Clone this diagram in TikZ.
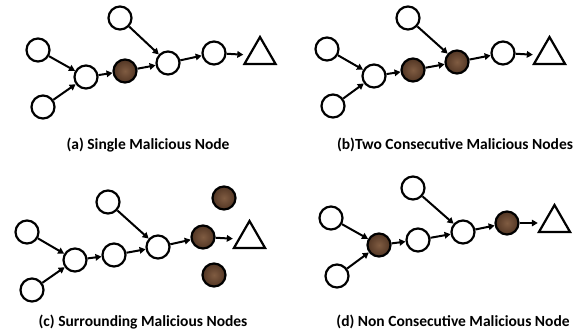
\documentclass[tikz,border=0pt]{standalone}
\usepackage{fontspec}
\setmainfont{Carlito}
\usetikzlibrary{arrows.meta,shapes.geometric}
\definecolor{brownin}{RGB}{128,92,66}
\definecolor{brownout}{RGB}{82,54,36}
\tikzset{
  nd/.style={circle,draw=black,line width=2.2bp,minimum size=23bp,inner sep=0pt,fill=white},
  mal/.style={nd,inner color=brownin,outer color=brownout},
  sink/.style={regular polygon,regular polygon sides=3,draw=black,line width=2.2bp,minimum size=36bp,inner sep=0pt},
  link/.style={line width=2bp,-{Triangle[length=6bp,width=6.5bp]}},
  sinklink/.style={link,shorten >=5bp},
  captext/.style={font=\bfseries\fontsize{15.5bp}{17bp}\selectfont,anchor=center}
}
\begin{document}
\begin{tikzpicture}[x=1bp,y=-1bp]
\useasboundingbox (0,0) rectangle (581,335);
\fill[white] (0,0) rectangle (581,335);

% (a) single malicious node
\node[nd]  (a1) at (38,50) {};
\node[nd]  (a2) at (43,107) {};
\node[nd]  (a3) at (120,18) {};
\node[nd]  (a4) at (86,77) {};
\node[mal] (a5) at (125,71) {};
\node[nd]  (a6) at (168,63) {};
\node[nd]  (a7) at (214,53) {};
\node[sink] (at) at (260,55) {};
\draw[link] (a1) -- (a4);
\draw[link] (a2) -- (a4);
\draw[link] (a4) -- (a5);
\draw[link] (a5) -- (a6);
\draw[link] (a3) -- (a6);
\draw[link] (a6) -- (a7);
\draw[sinklink] (a7) -- (at.west);
\node[captext] (acap) at (148,145) {(a) Single Malicious Node};

% (b) two consecutive malicious nodes
\node[nd]  (b1) at (327,49) {};
\node[nd]  (b2) at (333,106) {};
\node[nd]  (b3) at (408,18) {};
\node[nd]  (b4) at (374,76) {};
\node[mal] (b5) at (413,70) {};
\node[mal] (b6) at (457,62) {};
\node[nd]  (b7) at (503,53) {};
\node[sink] (bt) at (549.5,55) {};
\draw[link] (b1) -- (b4);
\draw[link] (b2) -- (b4);
\draw[link] (b4) -- (b5);
\draw[link] (b5) -- (b6);
\draw[link] (b3) -- (b6);
\draw[link] (b6) -- (b7);
\draw[sinklink] (b7) -- (bt.west);
\node[captext] (bcap) at (455,145) {(b)Two Consecutive Malicious Nodes};

% (c) surrounding malicious nodes
\node[nd]  (c1) at (27,232) {};
\node[nd]  (c2) at (32,290) {};
\node[nd]  (c3) at (108,202) {};
\node[nd]  (c4) at (75,260) {};
\node[nd]  (c5) at (114,255) {};
\node[nd]  (c6) at (158,247) {};
\node[mal] (c7) at (203,237) {};
\node[mal] (c8) at (224,198) {};
\node[mal] (c9) at (214,275) {};
\node[sink] (ct) at (249.5,239) {};
\draw[link] (c1) -- (c4);
\draw[link] (c2) -- (c4);
\draw[link] (c4) -- (c5);
\draw[link] (c5) -- (c6);
\draw[link] (c3) -- (c6);
\draw[link] (c6) -- (c7);
\draw[sinklink] (c7) -- (ct.west);
\node[captext] (ccap) at (143,322) {(c) Surrounding Malicious Nodes};

% (d) non consecutive malicious nodes
\node[nd]  (d1) at (331,218) {};
\node[nd]  (d2) at (337,276) {};
\node[nd]  (d3) at (413,188) {};
\node[mal] (d4) at (379,245) {};
\node[nd]  (d5) at (418,240) {};
\node[nd]  (d6) at (463,232) {};
\node[mal] (d7) at (507,223) {};
\node[sink] (dt) at (554.5,223) {};
\draw[link] (d1) -- (d4);
\draw[link] (d2) -- (d4);
\draw[link] (d4) -- (d5);
\draw[link] (d5) -- (d6);
\draw[link] (d3) -- (d6);
\draw[link] (d6) -- (d7);
\draw[sinklink] (d7) -- (dt.west);
\node[captext] (dcap) at (453,322) {(d) Non Consecutive Malicious Node};
\end{tikzpicture}
\end{document}
